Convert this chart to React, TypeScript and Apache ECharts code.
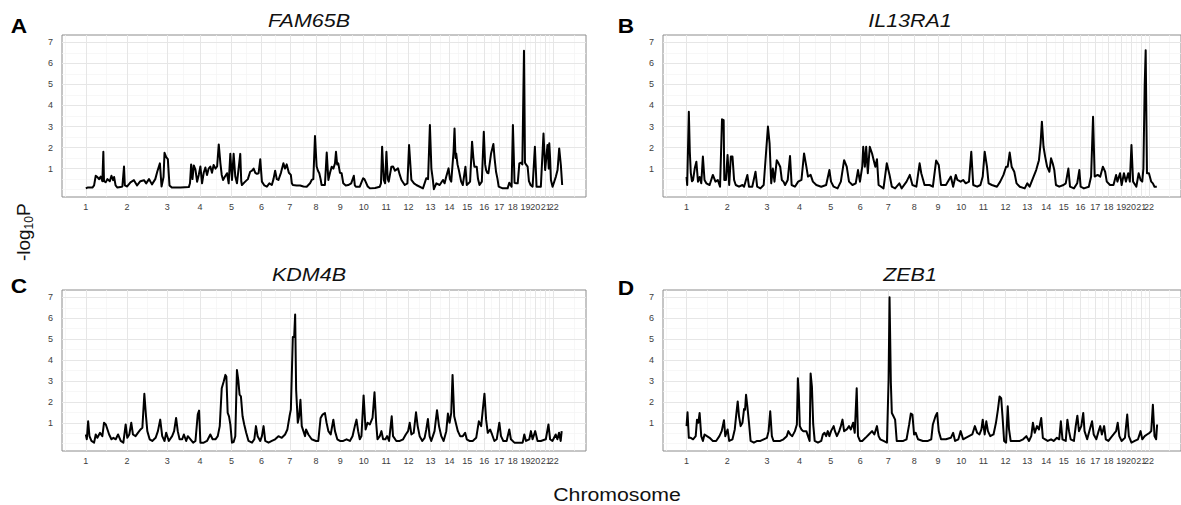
import React, { useEffect, useRef } from 'react';
import * as echarts from 'echarts';

// Chromosome start positions (cumulative Mb, hg19) and tick labels
const chromLabels = ['1','2','3','4','5','6','7','8','9','10','11','12','13','14','15','16','17','18','19','20','21','22'];
const chromStarts = [0, 249.25, 492.45, 690.47, 881.62, 1062.54, 1233.66, 1392.8, 1539.16, 1680.37, 1815.9, 1950.91, 2084.76, 2199.93, 2307.28, 2409.81, 2500.16, 2581.36, 2659.44, 2718.57, 2781.6, 2829.73];
const genomeEnd = 2881.03;
const yTicks = [1, 2, 3, 4, 5, 6, 7];
const yMinorLines = [0, 0.5, 1.5, 2.5, 3.5, 4.5, 5.5, 6.5];

const titles = ['FAM65B', 'IL13RA1', 'KDM4B', 'ZEB1'];
const letters = ['A', 'B', 'C', 'D'];
const xAxisTitle = 'Chromosome';

// [cumulative position Mb, -log10 P]
const fam65b: [number, number][] = [[0,0.06],[10,0.1],[40,0.1],[50,0.2],[60,0.66],[70,0.6],[80,0.5],[90,0.62],[100,0.4],[106,1.8],[110,0.4],[120,0.35],[131,0.5],[145,0.4],[155,0.66],[165,0.45],[171,0.6],[180,0.2],[191,0.1],[210,0.12],[221,0.15],[231,1.1],[236,0.2],[250,0.15],[270,0.35],[291,0.45],[310,0.2],[330,0.4],[352,0.45],[365,0.3],[382,0.5],[400,0.25],[420,0.5],[432,0.85],[448,1.25],[458,0.15],[470,0.6],[476,1.75],[486,1.55],[496,1.45],[506,0.2],[520,0.1],[573,0.1],[623,0.12],[630,0.3],[637,1.2],[645,0.5],[653,1.15],[663,0.95],[673,0.38],[683,0.7],[693,1.1],[703,0.3],[713,0.8],[723,1.05],[733,0.7],[743,1.0],[753,1.1],[763,0.8],[773,1.17],[784,1.0],[794,1.1],[804,2.15],[814,1.25],[822,0.7],[830,0.46],[840,0.6],[854,0.78],[864,0.3],[874,1.7],[884,0.46],[894,1.7],[904,0.62],[914,0.3],[934,1.7],[940,0.4],[944,0.22],[964,0.38],[980,0.5],[994,0.85],[1005,0.9],[1015,1.0],[1025,0.8],[1035,0.75],[1045,0.78],[1055,1.44],[1065,0.38],[1080,0.2],[1095,0.14],[1110,0.3],[1125,0.22],[1135,0.5],[1145,0.9],[1155,0.5],[1165,0.46],[1180,0.8],[1195,1.25],[1205,1.0],[1215,1.2],[1228,0.8],[1240,0.7],[1246,0.3],[1252,0.22],[1275,0.2],[1296,0.2],[1316,0.15],[1336,0.14],[1356,0.3],[1366,0.46],[1376,0.5],[1386,2.55],[1396,1.1],[1404,0.9],[1412,0.78],[1420,0.5],[1426,0.22],[1446,0.22],[1457,1.76],[1467,0.46],[1477,0.8],[1487,1.09],[1497,1.0],[1507,1.25],[1513,1.8],[1520,1.2],[1527,1.25],[1537,0.8],[1547,0.78],[1557,0.3],[1572,0.2],[1587,0.22],[1605,0.3],[1621,0.66],[1627,0.2],[1633,0.14],[1657,0.14],[1670,0.4],[1677,0.54],[1685,0.5],[1692,0.38],[1705,0.15],[1718,0.06],[1750,0.08],[1778,0.14],[1785,0.3],[1792,2.04],[1802,0.46],[1810,0.3],[1818,1.8],[1826,0.5],[1832,0.38],[1848,1.09],[1858,1.1],[1870,0.9],[1888,1.01],[1899,0.7],[1909,0.46],[1929,0.22],[1945,0.3],[1955,2.12],[1969,0.46],[1985,0.3],[1999,0.22],[2039,0.06],[2059,0.54],[2070,0.5],[2081,3.07],[2090,1.0],[2099,0.46],[2105,0.02],[2120,0.3],[2140,0.22],[2160,0.46],[2170,0.3],[2180,0.62],[2194,1.01],[2202,0.5],[2210,0.38],[2224,1.8],[2230,2.91],[2236,1.5],[2240,1.72],[2248,1.2],[2256,0.93],[2270,0.38],[2280,0.22],[2296,1.09],[2304,0.22],[2315,0.3],[2324,0.38],[2336,2.28],[2344,1.5],[2350,1.09],[2364,1.09],[2372,0.5],[2381,0.22],[2395,0.38],[2407,2.75],[2415,1.2],[2421,0.93],[2428,0.8],[2435,0.78],[2451,1.72],[2465,2.17],[2472,1.5],[2481,0.85],[2490,0.5],[2497,0.14],[2521,0.06],[2551,0.06],[2561,0.33],[2575,0.14],[2583,3.07],[2593,0.33],[2603,0.3],[2612,0.3],[2622,1.25],[2632,1.28],[2640,1.2],[2650,6.6],[2656,1.28],[2662,1.2],[2672,1.09],[2680,0.4],[2690,0.22],[2702,0.14],[2716,2.04],[2726,0.14],[2752,0.14],[2768,2.67],[2778,0.93],[2792,2.12],[2800,1.0],[2803,2.2],[2808,1.5],[2813,0.46],[2823,0.14],[2843,0.62],[2853,0.93],[2863,1.96],[2873,1.17],[2881,0.22]];

const il13ra1: [number, number][] = [[0,0.6],[4,0.22],[14,3.7],[20,1.8],[26,0.8],[33,0.4],[40,0.46],[50,1.0],[60,1.33],[70,0.38],[80,0.6],[90,0.3],[100,1.57],[110,0.46],[121,0.3],[141,0.22],[161,0.7],[177,0.38],[191,0.46],[205,0.14],[217,3.34],[227,3.3],[231,0.46],[241,0.46],[251,1.65],[261,0.22],[271,1.57],[281,1.57],[291,0.46],[301,0.22],[321,0.14],[342,0.22],[352,0.14],[372,0.7],[382,0.14],[402,0.14],[422,0.85],[432,0.14],[452,0.06],[472,0.22],[486,1.72],[498,3.0],[508,2.2],[518,0.3],[528,1.0],[538,0.38],[552,1.4],[563,1.25],[573,1.09],[583,0.46],[593,0.38],[603,0.22],[619,0.46],[633,1.6],[643,0.22],[663,0.14],[683,0.38],[703,0.46],[719,1.72],[733,1.09],[743,0.62],[759,0.7],[773,0.38],[794,0.22],[824,0.14],[854,0.22],[874,0.93],[884,0.38],[900,0.14],[924,0.06],[944,0.38],[964,1.4],[980,1.09],[994,0.38],[1015,0.22],[1035,0.3],[1049,0.93],[1061,0.38],[1075,1.09],[1081,2.04],[1091,1.09],[1099,2.04],[1109,0.78],[1121,2.04],[1135,1.72],[1145,1.4],[1155,1.09],[1165,1.44],[1175,0.22],[1205,0.06],[1225,1.25],[1242,0.7],[1256,0.14],[1276,0.06],[1302,0.3],[1316,0.06],[1346,0.38],[1366,0.7],[1382,0.22],[1406,0.14],[1426,1.25],[1436,0.78],[1456,0.22],[1487,0.22],[1507,0.14],[1527,1.38],[1543,1.17],[1557,0.22],[1587,0.22],[1617,0.62],[1631,0.14],[1647,0.7],[1657,0.46],[1677,0.38],[1692,0.46],[1708,0.3],[1728,0.38],[1742,1.8],[1754,0.22],[1778,0.14],[1798,0.22],[1812,0.62],[1824,1.8],[1838,1.09],[1848,0.3],[1868,0.22],[1899,0.14],[1919,0.38],[1939,0.7],[1955,1.09],[1965,1.09],[1977,1.76],[1989,1.09],[2005,0.85],[2019,0.3],[2039,0.14],[2069,0.06],[2085,0.3],[2099,0.14],[2119,0.54],[2139,0.93],[2156,1.4],[2166,2.2],[2174,3.23],[2184,2.04],[2194,1.57],[2206,1.09],[2220,0.85],[2230,1.49],[2240,1.25],[2250,0.93],[2260,0.22],[2280,0.14],[2306,0.22],[2320,0.3],[2336,1.0],[2346,0.14],[2370,0.06],[2390,0.3],[2403,0.93],[2411,0.14],[2431,0.06],[2461,0.14],[2475,0.62],[2487,3.46],[2497,0.62],[2515,0.7],[2531,0.62],[2547,1.09],[2561,0.85],[2571,0.38],[2591,0.22],[2612,0.22],[2628,0.7],[2636,0.38],[2652,0.78],[2662,0.22],[2676,0.78],[2688,0.38],[2702,0.78],[2712,0.38],[2722,2.12],[2732,0.38],[2752,0.14],[2766,0.78],[2778,0.46],[2788,0.38],[2795,1.0],[2803,4.97],[2809,6.63],[2817,0.78],[2829,0.78],[2843,0.38],[2853,0.3],[2863,0.14],[2877,0.14]];

const kdm4b: [number, number][] = [[0,0.44],[6,0.21],[14,1.07],[22,0.36],[34,0.13],[50,0.05],[60,0.44],[70,0.28],[86,0.52],[100,0.36],[110,1.0],[121,0.92],[131,0.68],[141,0.44],[155,0.21],[167,0.28],[181,0.21],[195,0.44],[211,0.13],[227,0.05],[241,0.92],[251,0.28],[263,0.44],[275,1.0],[285,0.44],[301,0.36],[315,0.52],[331,0.68],[342,0.76],[354,2.39],[364,1.31],[372,0.6],[386,0.21],[402,0.13],[422,0.28],[436,0.6],[450,1.15],[462,0.36],[476,0.13],[486,0.52],[502,0.13],[522,0.36],[534,0.6],[546,1.23],[556,0.6],[567,0.21],[583,0.21],[593,0.44],[607,0.13],[617,0.36],[633,0.21],[649,0.05],[663,0.13],[677,1.4],[685,1.58],[693,0.05],[713,0.05],[733,0.13],[753,0.44],[767,0.21],[784,0.21],[798,0.36],[810,0.84],[822,2.65],[834,2.97],[844,3.29],[850,3.21],[858,1.47],[866,1.31],[874,0.92],[884,0.05],[894,0.08],[904,0.36],[914,3.52],[922,3.05],[930,2.34],[938,2.26],[948,1.31],[958,0.92],[970,0.52],[984,0.13],[1005,0.05],[1019,0.21],[1029,0.84],[1039,0.36],[1055,0.13],[1065,0.36],[1075,0.84],[1085,0.13],[1105,0.05],[1125,0.13],[1145,0.21],[1165,0.36],[1185,0.28],[1205,0.44],[1219,0.68],[1232,1.31],[1240,1.63],[1252,5.1],[1260,5.1],[1266,6.18],[1272,2.58],[1282,1.0],[1290,1.31],[1298,2.1],[1306,0.84],[1316,0.6],[1326,0.36],[1332,0.68],[1346,0.44],[1366,0.21],[1392,0.13],[1406,0.13],[1420,1.23],[1432,1.39],[1446,1.47],[1456,1.0],[1467,0.6],[1481,0.44],[1497,1.15],[1507,0.6],[1521,0.21],[1537,0.13],[1557,0.13],[1577,0.21],[1597,0.13],[1613,0.36],[1627,0.84],[1637,1.15],[1647,0.6],[1657,0.21],[1667,0.36],[1680,2.31],[1692,0.68],[1704,1.0],[1718,0.92],[1734,1.23],[1746,2.46],[1756,1.0],[1764,0.21],[1778,0.36],[1788,0.6],[1798,0.21],[1812,0.21],[1822,0.36],[1834,0.13],[1850,1.31],[1858,0.36],[1878,0.13],[1899,0.13],[1919,0.21],[1935,0.44],[1949,0.6],[1959,1.0],[1969,0.44],[1983,0.52],[1997,1.5],[2007,0.84],[2019,0.36],[2035,0.13],[2049,0.28],[2059,0.68],[2069,1.18],[2079,0.36],[2089,0.13],[2099,0.36],[2109,0.6],[2124,1.6],[2136,0.84],[2150,0.36],[2164,0.13],[2180,0.6],[2190,1.44],[2200,1.0],[2210,1.47],[2218,3.29],[2228,1.31],[2240,0.92],[2250,0.6],[2264,0.36],[2280,0.36],[2294,0.52],[2304,0.21],[2320,0.13],[2340,0.13],[2361,0.28],[2377,1.07],[2391,0.84],[2401,1.63],[2411,2.39],[2421,1.15],[2431,0.52],[2445,0.68],[2457,0.44],[2471,0.13],[2485,0.21],[2501,1.0],[2511,0.36],[2525,0.13],[2545,0.13],[2561,0.68],[2571,0.21],[2592,0.05],[2622,0.05],[2642,0.05],[2652,0.44],[2662,0.13],[2682,0.21],[2692,0.6],[2702,0.21],[2718,0.6],[2732,0.13],[2752,0.13],[2782,0.21],[2798,0.92],[2808,0.21],[2822,0.13],[2842,0.44],[2852,0.21],[2862,0.52],[2872,0.13],[2878,0.6]];

const zeb1: [number, number][] = [[0,0.84],[6,1.5],[14,0.28],[26,0.28],[40,0.21],[56,0.36],[64,1.15],[72,1.0],[80,1.47],[90,0.36],[100,0.13],[110,0.44],[125,0.36],[141,0.28],[161,0.13],[181,0.13],[201,0.36],[215,0.6],[229,1.12],[237,0.36],[251,0.68],[261,0.13],[281,0.21],[295,0.68],[303,1.31],[313,2.02],[321,1.31],[331,0.84],[342,1.0],[352,1.66],[358,1.63],[364,2.34],[372,1.79],[382,1.0],[392,0.13],[412,0.05],[432,0.13],[452,0.13],[472,0.21],[492,0.28],[502,0.6],[512,1.55],[522,0.36],[532,0.13],[552,0.13],[573,0.13],[593,0.21],[613,0.36],[623,0.6],[635,0.44],[647,0.36],[663,0.6],[675,0.92],[681,3.13],[687,2.34],[693,0.84],[703,0.68],[713,0.6],[723,0.6],[733,0.6],[743,0.36],[753,0.13],[759,3.36],[767,2.73],[775,0.92],[784,0.13],[804,0.05],[824,0.13],[834,0.44],[844,0.52],[854,0.36],[864,0.6],[874,0.36],[884,0.6],[900,0.84],[908,0.6],[920,0.36],[934,0.6],[944,0.84],[954,1.15],[964,0.6],[980,0.68],[994,0.84],[1005,0.68],[1019,1.0],[1029,0.52],[1041,2.65],[1049,0.36],[1061,0.13],[1075,0.13],[1095,0.28],[1115,0.44],[1135,0.6],[1149,0.44],[1165,0.84],[1175,0.36],[1185,0.21],[1205,0.13],[1226,0.05],[1236,3.05],[1242,7.0],[1250,2.9],[1256,1.47],[1266,1.31],[1276,1.15],[1286,0.13],[1306,0.13],[1326,0.13],[1346,0.21],[1362,0.92],[1372,1.44],[1382,1.39],[1392,0.44],[1402,0.52],[1416,0.21],[1446,0.13],[1477,0.13],[1497,0.21],[1507,0.92],[1523,1.31],[1533,1.47],[1543,0.6],[1557,0.21],[1587,0.21],[1617,0.28],[1631,0.52],[1643,0.13],[1663,0.21],[1677,0.6],[1692,0.21],[1708,0.28],[1728,0.36],[1748,0.44],[1764,0.84],[1778,0.52],[1792,0.44],[1804,0.68],[1812,1.15],[1824,0.44],[1834,1.07],[1844,0.6],[1858,0.36],[1878,0.44],[1893,1.0],[1905,1.63],[1915,2.26],[1925,2.18],[1933,1.31],[1943,0.13],[1955,0.05],[1965,1.79],[1973,0.68],[1983,0.13],[2009,0.13],[2039,0.13],[2059,0.21],[2079,0.36],[2095,0.13],[2109,0.36],[2119,1.0],[2130,0.52],[2144,0.84],[2156,0.68],[2170,1.23],[2180,0.28],[2194,0.21],[2210,0.13],[2230,0.21],[2246,0.13],[2266,0.28],[2280,0.21],[2290,1.07],[2300,0.21],[2320,0.13],[2330,1.15],[2340,0.6],[2350,0.21],[2370,0.13],[2381,0.84],[2391,1.34],[2401,0.6],[2415,0.84],[2427,1.47],[2435,0.6],[2451,0.21],[2467,0.68],[2481,1.07],[2491,0.44],[2507,0.21],[2521,0.6],[2531,0.84],[2541,0.44],[2555,0.84],[2565,0.21],[2581,0.13],[2595,0.28],[2612,0.44],[2628,0.6],[2638,1.0],[2648,0.36],[2662,0.13],[2682,0.28],[2696,1.39],[2706,0.36],[2722,0.05],[2742,0.13],[2762,0.21],[2778,0.6],[2788,0.21],[2803,0.36],[2817,0.44],[2833,0.52],[2843,0.6],[2853,1.86],[2863,0.36],[2873,0.21],[2879,0.92]];

const seriesData = [fam65b, il13ra1, kdm4b, zeb1];

const FONT = '"Liberation Sans", Arial, Helvetica, sans-serif';

export default function App() {
  const ref = useRef<HTMLDivElement>(null);

  useEffect(() => {
    if (!ref.current) return;
    const chart = echarts.init(ref.current, null, { renderer: 'svg' });

    const expand = genomeEnd * 0.05;
    const xMin = -expand;
    const xMax = genomeEnd + expand;

    // minor x breaks: midpoints between chromosome starts (ggplot style)
    const firstStep = chromStarts[1] - chromStarts[0];
    const extended = [chromStarts[0] - firstStep, ...chromStarts, chromStarts[chromStarts.length - 1] + firstStep];
    const xMinor: number[] = [];
    for (let i = 0; i < extended.length - 1; i++) {
      const m = (extended[i] + extended[i + 1]) / 2;
      if (m > xMin && m < xMax) xMinor.push(m);
    }

    const grids = [
      { left: 62, top: 35, width: 524, height: 162 },
      { left: 663, top: 35, width: 524, height: 162 },
      { left: 62, top: 290, width: 524, height: 161 },
      { left: 663, top: 290, width: 524, height: 161 },
    ];

    const minorStyle = { color: '#f3f3f3', width: 0.7, type: 'solid' as const };
    const majorStyle = { color: '#e6e6e6', width: 1, type: 'solid' as const };

    const gridLinesData = [
      ...xMinor.map((v) => ({ xAxis: v, lineStyle: minorStyle })),
      ...yMinorLines.map((v) => ({ yAxis: v, lineStyle: minorStyle })),
      ...chromStarts.map((v) => ({ xAxis: v, lineStyle: majorStyle })),
      ...yTicks.map((v) => ({ yAxis: v, lineStyle: majorStyle })),
    ];

    const labelFor = (v: number) => {
      const idx = chromStarts.findIndex((c) => Math.abs(c - v) < 0.01);
      return idx >= 0 ? chromLabels[idx] : '';
    };

    // labels are split over two axes so ECharts does not drop the crowded last ones
    const lastStart = chromStarts[chromStarts.length - 1];
    const mainLabelValues = chromStarts.slice(0, chromStarts.length - 1);

    const titleCenters = [
      { x: 309, y: 20.5 },
      { x: 910, y: 20.5 },
      { x: 309, y: 274.5 },
      { x: 910, y: 274.5 },
    ];
    const letterPos = [
      { x: 19, y: 26 },
      { x: 626, y: 26 },
      { x: 19, y: 286 },
      { x: 626, y: 287.5 },
    ];

    const txt = (extra: any) => ({
      fontFamily: FONT,
      align: 'center',
      verticalAlign: 'middle',
      textAlign: 'center',
      textVerticalAlign: 'middle',
      ...extra,
    });

    const graphics: any[] = [];
    titles.forEach((t, i) => {
      graphics.push({
        type: 'text',
        x: titleCenters[i].x,
        y: titleCenters[i].y,
        scaleX: 1.13,
        silent: true,
        style: txt({ text: t, fontSize: 19, fontStyle: 'italic', fill: '#111' }),
      });
      graphics.push({
        type: 'text',
        x: letterPos[i].x,
        y: letterPos[i].y,
        scaleX: 1.08,
        silent: true,
        style: txt({ text: letters[i], fontSize: 21, fontWeight: 'bold', fill: '#000' }),
      });
    });
    graphics.push({
      type: 'text',
      x: 617,
      y: 494.5,
      scaleX: 1.12,
      silent: true,
      style: txt({ text: xAxisTitle, fontSize: 19, fill: '#111' }),
    });
    // rotated y-axis title "-log10P" with subscript
    graphics.push({
      type: 'group',
      x: 23,
      y: 232,
      rotation: Math.PI / 2,
      silent: true,
      children: [
        {
          type: 'text',
          x: -29,
          y: 0,
          style: { text: '-log', fontSize: 19, fontFamily: FONT, fill: '#111', align: 'left', verticalAlign: 'middle', textAlign: 'left', textVerticalAlign: 'middle' },
        },
        {
          type: 'text',
          x: 2.5,
          y: 6,
          style: { text: '10', fontSize: 12, fontFamily: FONT, fill: '#111', align: 'left', verticalAlign: 'middle', textAlign: 'left', textVerticalAlign: 'middle' },
        },
        {
          type: 'text',
          x: 16,
          y: 0,
          style: { text: 'P', fontSize: 19, fontFamily: FONT, fill: '#111', align: 'left', verticalAlign: 'middle', textAlign: 'left', textVerticalAlign: 'middle' },
        },
      ],
    });

    const xLabelStyle = {
      show: true,
      formatter: (v: number) => labelFor(v),
      fontSize: 9,
      fontFamily: FONT,
      color: '#3d3d3d',
      margin: 5,
      hideOverlap: false,
      showMinLabel: true,
      showMaxLabel: true,
    };

    const option: any = {
      animation: false,
      backgroundColor: '#ffffff',
      grid: grids.map((g) => ({
        ...g,
        show: true,
        backgroundColor: '#ffffff',
        borderColor: '#8c8c8c',
        borderWidth: 1,
        containLabel: false,
      })),
      xAxis: [
        ...grids.map((_, i) => ({
          type: 'value',
          gridIndex: i,
          min: xMin,
          max: xMax,
          axisLine: { show: false },
          splitLine: { show: false },
          axisTick: {
            show: true,
            customValues: chromStarts,
            length: 3,
            lineStyle: { color: '#444', width: 1 },
          },
          axisLabel: { ...xLabelStyle, customValues: mainLabelValues },
        })),
        ...grids.map((_, i) => ({
          type: 'value',
          gridIndex: i,
          position: 'bottom',
          min: xMin,
          max: xMax,
          axisLine: { show: false },
          splitLine: { show: false },
          axisTick: { show: false },
          axisLabel: { ...xLabelStyle, customValues: [lastStart] },
        })),
      ],
      yAxis: grids.map((_, i) => ({
        type: 'value',
        gridIndex: i,
        min: -0.35,
        max: 7.35,
        axisLine: { show: false },
        splitLine: { show: false },
        axisTick: {
          show: true,
          customValues: yTicks,
          length: 6,
          lineStyle: { color: '#444', width: 1 },
        },
        axisLabel: {
          show: true,
          customValues: yTicks,
          formatter: (v: number) => String(Math.round(v)),
          fontSize: 9,
          fontFamily: FONT,
          color: '#3d3d3d',
          margin: 9,
          showMinLabel: true,
          showMaxLabel: true,
        },
      })),
      series: [
        ...grids.map((_, i) => ({
          type: 'line',
          xAxisIndex: i,
          yAxisIndex: i,
          data: [],
          silent: true,
          z: 1,
          markLine: {
            z: 1,
            silent: true,
            symbol: ['none', 'none'],
            label: { show: false },
            lineStyle: { type: 'solid' },
            emphasis: { disabled: true },
            data: gridLinesData,
          },
        })),
        ...seriesData.map((d, i) => ({
          type: 'line',
          name: titles[i],
          xAxisIndex: i,
          yAxisIndex: i,
          data: d,
          showSymbol: false,
          symbol: 'none',
          silent: true,
          z: 6,
          lineStyle: { color: '#000', width: 2, join: 'round' },
          clip: true,
        })),
      ],
      graphic: graphics,
    };

    chart.setOption(option);
    return () => chart.dispose();
  }, []);

  return (
    <div
      ref={ref}
      style={{ position: 'fixed', left: 0, top: 0, width: 1181, height: 505, background: '#ffffff' }}
    />
  );
}
